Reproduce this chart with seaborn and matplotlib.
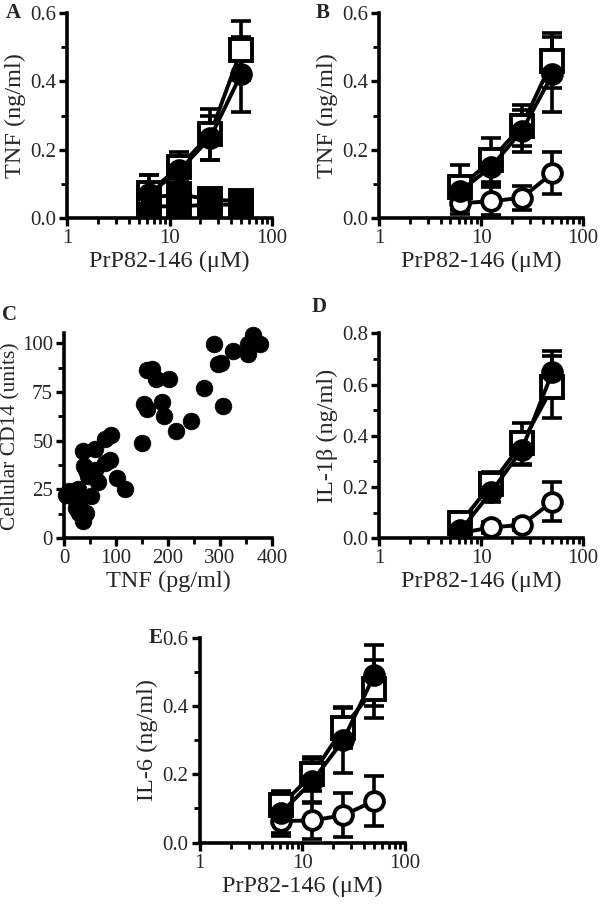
import numpy as np
import pandas as pd
import seaborn as sns
import matplotlib
matplotlib.use("Agg")
import matplotlib.pyplot as plt
from matplotlib.ticker import FixedLocator, NullFormatter, LogLocator

sns.set_style("ticks")
plt.rcParams['font.family'] = ['Liberation Serif', 'DejaVu Serif']

dose = [6.25, 12.5, 25, 50]

# Panel A (TNF)
a_open_sq = [0.075, 0.15, 0.245, 0.49]
a_open_sq_err = [0.05, 0.045, 0.075, 0.085]
a_fill_circ = [0.07, 0.14, 0.235, 0.42]
a_fill_circ_err = [0.055, 0.04, 0.065, 0.11]
a_fill_sq1 = [0.06, 0.07, 0.055, 0.05]
a_fill_sq1_err = [0.03, 0.03, 0.02, 0.015]
a_fill_sq2 = [0.035, 0.035, 0.04, 0.04]
a_fill_sq2_err = [0.02, 0.025, 0.02, 0.015]

# Panel B (TNF)
b_open_sq = [0.09, 0.17, 0.27, 0.46]
b_open_sq_err = [0.065, 0.065, 0.06, 0.08]
b_fill_circ = [0.08, 0.15, 0.255, 0.42]
b_fill_circ_err = [0.04, 0.05, 0.06, 0.11]
b_open_circ = [0.044, 0.05, 0.06, 0.132]
b_open_circ_err = [0.03, 0.04, 0.035, 0.062]

# Panel C (scatter)
c_tnf = [3, 10, 26, 20, 29, 23, 29, 36, 42, 36, 59, 42, 52, 65, 78, 88, 78, 91,
         101, 117, 46, 39, 59, 150, 153, 159, 159, 169, 176, 189, 192, 202, 215,
         244, 270, 289, 296, 302, 306, 325, 355, 364, 355, 377]
c_cd14 = [22, 24, 25, 20, 18, 15.5, 13, 8.6, 13, 44.7, 45.5, 35, 21.5, 29, 38.6,
          40, 50.7, 53, 31, 25, 32, 37, 35, 49, 68.7, 66, 86, 86.8, 81.6, 69.6,
          62.7, 81.6, 55, 60, 77, 99.7, 89.3, 90, 68, 96, 94.5, 104, 99.7, 99.7]

# Panel D (IL-1beta)
d_open_sq = [0.06, 0.21, 0.37, 0.59]
d_open_sq_err = [0.04, 0.05, 0.08, 0.12]
d_fill_circ = [0.03, 0.18, 0.345, 0.65]
d_fill_circ_err = [0.03, 0.04, 0.06, 0.08]
d_open_circ = [0.02, 0.042, 0.052, 0.143]
d_open_circ_err = [0.015, 0.02, 0.02, 0.075]

# Panel E (IL-6)
e_open_sq = [0.11, 0.2, 0.336, 0.45]
e_open_sq_err = [0.04, 0.05, 0.06, 0.085]
e_fill_circ = [0.088, 0.18, 0.3, 0.49]
e_fill_circ_err = [0.06, 0.065, 0.095, 0.09]
e_open_circ = [0.063, 0.065, 0.08, 0.122]
e_open_circ_err = [0.045, 0.055, 0.065, 0.073]

fig = plt.figure(figsize=(6.0, 9.06), dpi=100)

LW = 2.8
FS_TICK = 15
FS_LAB = 17.5
SQ_MS = 15.5
CI_MS = 13.5

def style_axes(ax):
    for s in ['top', 'right']:
        ax.spines[s].set_visible(False)
    for s in ['left', 'bottom']:
        ax.spines[s].set_linewidth(2.6)
        ax.spines[s].set_color('black')
    ax.tick_params(which='major', length=6, width=2.4, labelsize=FS_TICK, pad=2, color='black')
    ax.tick_params(which='minor', length=4.5, width=2.0, color='black')

def series(ax, y, err, marker, filled, ms):
    df = pd.DataFrame({'x': dose, 'y': y})
    ax.errorbar(dose, y, yerr=err, fmt='none', ecolor='black', elinewidth=2.6,
                capsize=7, capthick=2.6, zorder=2)
    sns.lineplot(data=df, x='x', y='y', ax=ax, color='black', lw=LW,
                 marker=marker, markersize=ms,
                 markerfacecolor='black' if filled else 'white',
                 markeredgecolor='black', markeredgewidth=2.8, zorder=3)

def dose_axes(rect, ymax, ylabel, letter, lx, ly):
    ax = fig.add_axes(rect)
    ax.set_xscale('log')
    ax.set_xlim(1, 100)
    ax.set_ylim(0, ymax)
    ax.set_xticks([1, 10, 100])
    ax.set_xticklabels(['1', '10', '100'])
    ax.xaxis.set_minor_locator(LogLocator(base=10, subs=np.arange(2, 10)))
    ax.xaxis.set_minor_formatter(NullFormatter())
    step = 0.2
    ax.set_yticks(np.arange(0, ymax + 1e-9, step))
    ax.set_yticklabels([f"{v:.1f}" for v in np.arange(0, ymax + 1e-9, step)])
    ax.yaxis.set_minor_locator(FixedLocator(np.arange(0.1, ymax, 0.2)))
    ax.set_xlabel('PrP82-146 (μM)', fontsize=FS_LAB, labelpad=2)
    ax.set_ylabel(ylabel, fontsize=FS_LAB, labelpad=3)
    style_axes(ax)
    ax.text(lx, ly, letter, transform=ax.transAxes, fontsize=15,
            fontweight='bold', va='center', ha='left')
    return ax

# A
axA = dose_axes([0.112, 0.759, 0.341, 0.227], 0.6, 'TNF (ng/ml)', 'A', -0.30, 1.0)
series(axA, a_fill_sq1, a_fill_sq1_err, 's', True, SQ_MS)
series(axA, a_fill_sq2, a_fill_sq2_err, 's', True, SQ_MS)
series(axA, a_open_sq, a_open_sq_err, 's', False, SQ_MS)
series(axA, a_fill_circ, a_fill_circ_err, 'o', True, CI_MS)

# B
axB = dose_axes([0.632, 0.759, 0.340, 0.227], 0.6, 'TNF (ng/ml)', 'B', -0.31, 1.0)
series(axB, b_open_circ, b_open_circ_err, 'o', False, CI_MS)
series(axB, b_open_sq, b_open_sq_err, 's', False, SQ_MS)
series(axB, b_fill_circ, b_fill_circ_err, 'o', True, CI_MS)

# C
axC = fig.add_axes([0.107, 0.406, 0.346, 0.226])
dfc = pd.DataFrame({'tnf': c_tnf, 'cd14': c_cd14})
sns.scatterplot(data=dfc, x='tnf', y='cd14', ax=axC, color='black', s=145,
                edgecolor='black', linewidth=0.5, zorder=3, clip_on=False)
axC.set_xlim(0, 400)
axC.set_ylim(0, 105)
axC.set_xticks([0, 100, 200, 300, 400])
axC.set_yticks([0, 25, 50, 75, 100])
axC.xaxis.set_minor_locator(FixedLocator([50, 150, 250, 350]))
axC.yaxis.set_minor_locator(FixedLocator([12.5, 37.5, 62.5, 87.5]))
axC.set_xlabel('TNF (pg/ml)', fontsize=FS_LAB, labelpad=2)
axC.set_ylabel('Cellular CD14 (units)', fontsize=15.5, labelpad=1)
style_axes(axC)
axC.tick_params(which='minor', length=4)
axC.text(-0.30, 1.088, 'C', transform=axC.transAxes, fontsize=15,
         fontweight='bold', va='center', ha='left')

# D
axD = dose_axes([0.632, 0.406, 0.340, 0.226], 0.8, 'IL-1β (ng/ml)', 'D', -0.33, 1.127)
series(axD, d_open_circ, d_open_circ_err, 'o', False, CI_MS)
series(axD, d_open_sq, d_open_sq_err, 's', False, SQ_MS)
series(axD, d_fill_circ, d_fill_circ_err, 'o', True, CI_MS)

# E
axE = dose_axes([0.333, 0.070, 0.342, 0.226], 0.6, 'IL-6 (ng/ml)', 'E', -0.25, 1.0)
series(axE, e_open_circ, e_open_circ_err, 'o', False, CI_MS)
series(axE, e_open_sq, e_open_sq_err, 's', False, SQ_MS)
series(axE, e_fill_circ, e_fill_circ_err, 'o', True, CI_MS)

for ax in [axA, axB, axD, axE]:
    leg = ax.get_legend()
    if leg is not None:
        leg.remove()

fig.savefig('out.png', dpi=100)
